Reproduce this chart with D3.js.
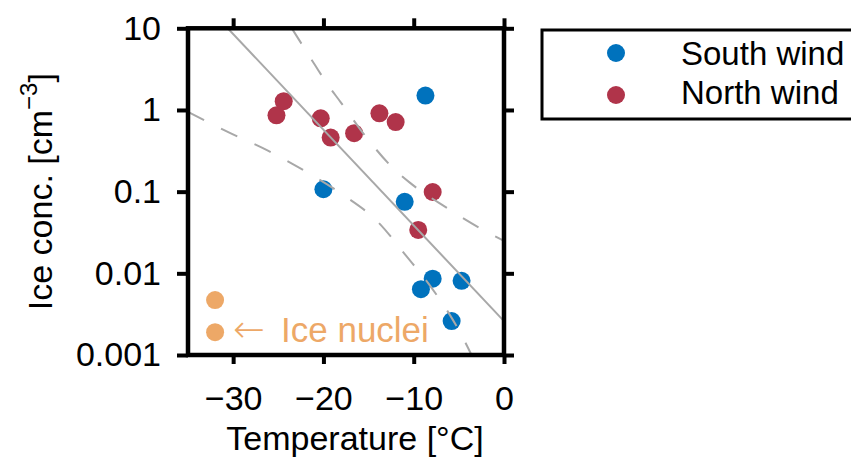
<!DOCTYPE html>
<html>
<head>
<meta charset="utf-8">
<script src="https://cdn.jsdelivr.net/npm/d3@7"></script>
<style>
    html, body { margin: 0; padding: 0; background: #ffffff; }
    #chart { width: 851px; height: 460px; }
    text { font-family: "Liberation Sans", Arial, sans-serif; fill: #000; }
</style>
</head>
<body>
<div id="chart"></div>
<script>
// Measured values (temperature in °C, ice concentration in cm^-3)
const southTemp = [-8.7, -20.0, -11.0, -7.9, -9.2, -4.7, -5.8];
const southConc = [1.5, 0.107, 0.075, 0.0086, 0.0064, 0.0081, 0.0026];

const northTemp = [-25.2, -24.4, -20.3, -19.2, -16.6, -13.8, -12.0, -7.9, -9.5];
const northConc = [0.86, 1.28, 0.79, 0.46, 0.52, 0.91, 0.71, 0.099, 0.034];

const nucleiTemp = [-32, -32];
const nucleiConc = [0.0047, 0.0019];

// Fit line and confidence band
const fitTemp = [-30.6, 0];
const fitConc = [10, 0.0026];

const upperTemp = [-23.5, -20.9, -19.6, -18.1, -15.3, -12.2, -10.4, -6.5, -2.3, 0];
const upperConc = [10, 3.5, 2.1, 1.25, 0.47, 0.19, 0.128, 0.065, 0.034, 0.025];

const lowerTemp = [-35, -30.6, -26.2, -21.9, -17.8, -14.0, -10.9, -8.0, -5.2, -4.1, -3.4];
const lowerConc = [0.95, 0.54, 0.32, 0.175, 0.091, 0.043, 0.0167, 0.0066, 0.0022, 0.0013, 0.0009];

const xTicks = [-30, -20, -10, 0];
const yTicks = [10, 1, 0.1, 0.01, 0.001];

const seriesNames = ['South wind', 'North wind'];
const colors = { south: '#0072BD', north: '#B0344A', nuclei: '#EDA867' };

const zip = (xs, ys) => xs.map((x, i) => ({ t: x, c: ys[i] }));

// Set up dimensions
const W = 851, H = 460;
const box = { left: 188, right: 504, top: 28.3, bottom: 355 };

const svg = d3.select('#chart')
    .append('svg')
    .attr('width', W)
    .attr('height', H);

const x = d3.scaleLinear().domain([-35, 0]).range([box.left, box.right]);
const y = d3.scaleLog().domain([0.001, 10]).range([box.bottom, box.top]);

svg.append('defs').append('clipPath')
    .attr('id', 'plot-clip')
    .append('rect')
    .attr('x', box.left)
    .attr('y', box.top)
    .attr('width', box.right - box.left)
    .attr('height', box.bottom - box.top);

const plot = svg.append('g').attr('clip-path', 'url(#plot-clip)');

// Points
const dots = [
    { data: zip(southTemp, southConc), color: colors.south },
    { data: zip(northTemp, northConc), color: colors.north },
    { data: zip(nucleiTemp, nucleiConc), color: colors.nuclei }
];
dots.forEach(s => {
    plot.selectAll(null)
        .data(s.data)
        .enter()
        .append('circle')
        .attr('cx', d => x(d.t))
        .attr('cy', d => y(d.c))
        .attr('r', 9)
        .attr('fill', s.color);
});

// Lines
const line = d3.line().x(d => x(d.t)).y(d => y(d.c));
const curve = d3.line().x(d => x(d.t)).y(d => y(d.c)).curve(d3.curveMonotoneX);

plot.append('path')
    .attr('d', line(zip(fitTemp, fitConc)))
    .attr('fill', 'none')
    .attr('stroke', '#a8a8a8')
    .attr('stroke-width', 2);

[zip(upperTemp, upperConc), zip(lowerTemp, lowerConc)].forEach(band => {
    plot.append('path')
        .attr('d', curve(band))
        .attr('fill', 'none')
        .attr('stroke', '#a8a8a8')
        .attr('stroke-width', 2)
        .attr('stroke-dasharray', '18,19');
});

// Axes
const fontSize = '34px';
const axisStyle = g => {
    g.select('.domain').remove();
    g.selectAll('.tick line').attr('stroke', '#000').attr('stroke-width', 4);
    g.selectAll('.tick text').style('font-size', fontSize).attr('fill', '#000');
};

svg.append('g')
    .attr('transform', `translate(0,${box.bottom})`)
    .call(d3.axisBottom(x).tickValues(xTicks).tickSize(9).tickPadding(22))
    .call(axisStyle);

svg.append('g')
    .attr('transform', `translate(0,${box.top})`)
    .call(d3.axisTop(x).tickValues(xTicks).tickSize(10).tickFormat(''))
    .call(axisStyle);

svg.append('g')
    .attr('transform', `translate(${box.left},0)`)
    .call(d3.axisLeft(y).tickValues(yTicks).tickSize(11).tickPadding(16).tickFormat(d => String(d)))
    .call(axisStyle);

svg.append('g')
    .attr('transform', `translate(${box.right},0)`)
    .call(d3.axisRight(y).tickValues(yTicks).tickSize(10).tickFormat(''))
    .call(axisStyle);

// Frame
svg.append('rect')
    .attr('x', box.left)
    .attr('y', box.top)
    .attr('width', box.right - box.left)
    .attr('height', box.bottom - box.top)
    .attr('fill', 'none')
    .attr('stroke', '#000')
    .attr('stroke-width', 4.5);

// Axis titles
svg.append('text')
    .attr('x', (box.left + box.right) / 2 + 9)
    .attr('y', 450)
    .attr('text-anchor', 'middle')
    .style('font-size', fontSize)
    .text('Temperature [°C]');

const yTitle = svg.append('text')
    .attr('transform', `translate(52,${(box.top + box.bottom) / 2}) rotate(-90)`)
    .attr('text-anchor', 'middle')
    .style('font-size', fontSize);
yTitle.append('tspan').text('Ice conc. [cm');
yTitle.append('tspan').attr('dy', -15).style('font-size', '24px').text('−3');
yTitle.append('tspan').attr('dy', 15).text(']');

// Ice nuclei annotation
const note = svg.append('text')
    .attr('x', 233)
    .attr('y', 342)
    .style('font-size', '35px')
    .style('fill', colors.nuclei);
note.append('tspan')
    .style('font-family', '"DejaVu Sans", sans-serif')
    .style('font-weight', 300)
    .style('font-size', '38px')
    .text('←');
note.append('tspan').attr('x', 281).text('Ice nuclei');

// Legend
const legend = svg.append('g');
legend.append('rect')
    .attr('x', 542)
    .attr('y', 30)
    .attr('width', 340)
    .attr('height', 89)
    .attr('fill', '#fff')
    .attr('stroke', '#000')
    .attr('stroke-width', 3);

[colors.south, colors.north].forEach((c, i) => {
    legend.append('circle')
        .attr('cx', 616)
        .attr('cy', 53 + i * 42)
        .attr('r', 9)
        .attr('fill', c);
    legend.append('text')
        .attr('x', 681)
        .attr('y', 65 + i * 39)
        .style('font-size', '33px')
        .text(seriesNames[i]);
});
</script>
</body>
</html>
